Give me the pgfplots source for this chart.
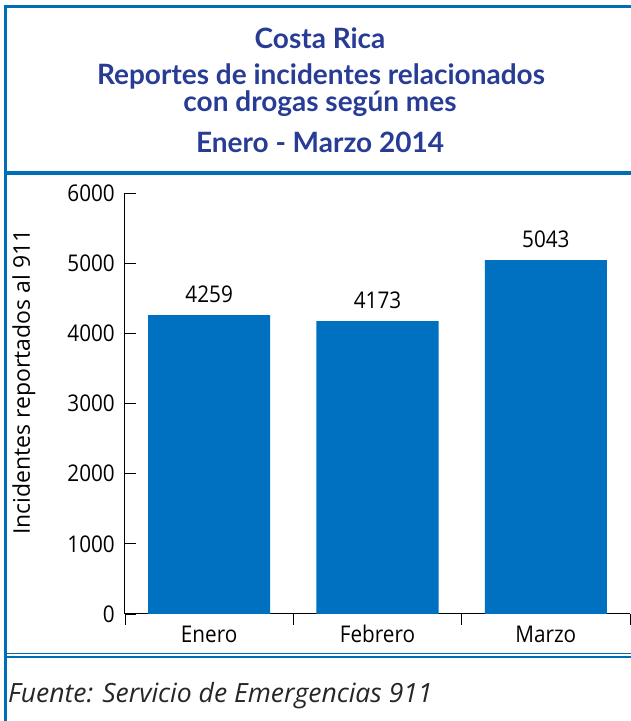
\documentclass[border=0pt]{standalone}
\usepackage{pgfplots}
\pgfplotsset{compat=1.18}
\usepackage{fontspec}
\setmainfont{Open Sans}
\newfontfamily\tickfont[FakeStretch=0.9]{Open Sans}
\newfontfamily\titlefont{Lato}
\definecolor{frameblue}{RGB}{0,110,182}
\definecolor{barblue}{RGB}{0,112,192}
\definecolor{titleblue}{RGB}{40,60,150}
\begin{document}
\begin{tikzpicture}
\path[use as bounding box] (0,0) rectangle (631pt,721pt);
% frame
\draw[frameblue, line width=3pt] (5pt,0pt) -- (5pt,714.5pt);
\draw[frameblue, line width=3pt] (3.5pt,714.5pt) -- (631pt,714.5pt);
\draw[frameblue, line width=4pt] (5pt,548pt) -- (631pt,548pt);
\draw[frameblue, line width=1.6pt] (5pt,67.5pt) -- (631pt,67.5pt);
\draw[frameblue, line width=1.6pt] (5pt,64.2pt) -- (631pt,64.2pt);
% title
\tikzset{ttl/.style={anchor=base, text=titleblue, inner sep=0pt, font={\fontsize{28}{30}\selectfont\titlefont\bfseries}}}
\node[ttl] at (320pt,672pt) {Costa Rica};
\node[ttl] at (321pt,636pt) {Reportes de incidentes relacionados};
\node[ttl] at (320pt,609pt) {con drogas según mes};
\node[ttl] at (320pt,568pt) {Enero - Marzo 2014};
% source
\node[anchor=base west, inner sep=0pt, font={\fontsize{26.5}{28}\selectfont\itshape}, text=black!85] at (8pt,18pt) {Fuente: Servicio de Emergencias 911};
\begin{axis}[
  at={(125pt,107pt)}, anchor=south west,
  scale only axis, width=505pt, height=421pt,
  xmin=-0.5, xmax=2.5, ymin=0, ymax=6000,
  axis lines*=left,
  axis line style={line width=1pt, black},
  tick align=inside, major tick length=11pt,
  tick style={black, line width=0.8pt},
  ytick={0,1000,2000,3000,4000,5000,6000},
  xtick={-0.5,0.5,1.5,2.5}, xticklabels={},
  extra x ticks={0,1,2},
  extra x tick labels={Enero,Febrero,Marzo},
  extra x tick style={major tick length=0pt},
  xticklabel style={anchor=base, yshift=-28pt, inner sep=0pt},
  yticklabel style={anchor=east, inner sep=0pt, xshift=-10pt},
  ticklabel style={font={\fontsize{23}{23}\selectfont\tickfont}},
  /pgf/number format/assume math mode=true,
  /pgf/number format/1000 sep={},
  scaled y ticks=false,
  ylabel={Incidentes reportados al 911},
  every axis y label/.style={at={(axis description cs:-0.2,0.551)}, anchor=center, rotate=90, font={\fontsize{23}{23}\selectfont}},
  ybar, bar width=0.725,
  clip=false,
]
\addplot[fill=barblue, draw=none,
  nodes near coords,
  every node near coord/.append style={anchor=base, yshift=13pt, inner sep=0pt, text=black, font={\fontsize{23}{23}\selectfont\tickfont}}]
  coordinates {(0,4259) (1,4173) (2,5043)};
\end{axis}
\end{tikzpicture}
\end{document}
